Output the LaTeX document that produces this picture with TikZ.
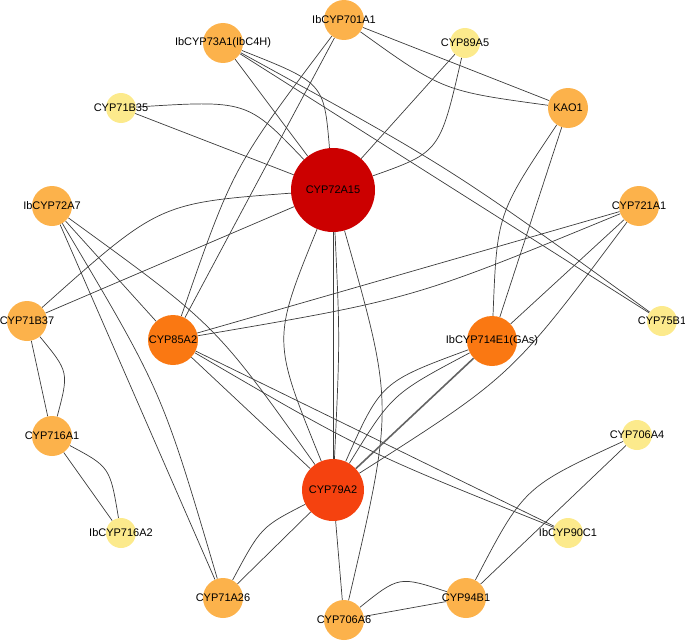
\documentclass[tikz,border=0pt]{standalone}
\usepackage{fontspec}
\setmainfont{Liberation Sans}
\usetikzlibrary{backgrounds}
\definecolor{cRed}{HTML}{CC0000}
\definecolor{cRedOr}{HTML}{F5420F}
\definecolor{cOrange}{HTML}{FA7812}
\definecolor{cLight}{HTML}{FCB24B}
\definecolor{cYellow}{HTML}{FCEA8C}
\definecolor{edgegray}{HTML}{3C3C3C}
\tikzset{
  gene/.style={circle, inner sep=0pt, draw=none},
  hubA/.style={gene, fill=cRed, minimum size=84pt},
  hubB/.style={gene, fill=cRedOr, minimum size=62pt},
  midnode/.style={gene, fill=cOrange, minimum size=50pt},
  lightnode/.style={gene, fill=cLight, minimum size=40pt},
  yellownode/.style={gene, fill=cYellow, minimum size=30pt},
  lbl/.style={font=\fontsize{11}{13}\selectfont, text=black, inner sep=0pt},
  edge/.style={draw=edgegray, line width=0.7pt},
  thickedge/.style={draw=edgegray!80, line width=1.6pt},
}
\begin{document}
\begin{tikzpicture}[x=1pt,y=-1pt]
\useasboundingbox (0,0) rectangle (685,642);
% nodes
\node[hubA] (nA15) at (333,190) {};
\node[hubB] (n79A2) at (333,490) {};
\node[midnode] (n85A2) at (173,340) {};
\node[midnode] (n714E1) at (492,341) {};
\node[lightnode] (n701) at (344,20) {};
\node[lightnode] (n73) at (223,43) {};
\node[lightnode] (nKAO1) at (568,108) {};
\node[lightnode] (n721A1) at (639,206) {};
\node[lightnode] (n72A7) at (52,206) {};
\node[lightnode] (n71B37) at (27,321) {};
\node[lightnode] (n716A1) at (52,436) {};
\node[lightnode] (n71A26) at (223,598) {};
\node[lightnode] (n706A6) at (344,620) {};
\node[lightnode] (n94B1) at (466,598) {};
\node[yellownode] (n89A5) at (465,43) {};
\node[yellownode] (n71B35) at (121,108) {};
\node[yellownode] (n75B1) at (662,321) {};
\node[yellownode] (n716A2) at (121,533) {};
\node[yellownode] (n90C1) at (568,533) {};
\node[yellownode] (n706A4) at (637,435) {};
% labels
\node[lbl] (lA15) at (nA15) {CYP72A15};
\node[lbl] (l79A2) at (n79A2) {CYP79A2};
\node[lbl] (l85A2) at (n85A2) {CYP85A2};
\node[lbl] (l714E1) at (n714E1) {IbCYP714E1(GAs)};
\node[lbl] (l701) at (n701) {IbCYP701A1};
\node[lbl] (l73) at (n73) {IbCYP73A1(IbC4H)};
\node[lbl] (lKAO1) at (nKAO1) {KAO1};
\node[lbl] (l721A1) at (n721A1) {CYP721A1};
\node[lbl] (l72A7) at (n72A7) {IbCYP72A7};
\node[lbl] (l71B37) at (n71B37) {CYP71B37};
\node[lbl] (l716A1) at (n716A1) {CYP716A1};
\node[lbl] (l71A26) at (n71A26) {CYP71A26};
\node[lbl] (l706A6) at (n706A6) {CYP706A6};
\node[lbl] (l94B1) at (n94B1) {CYP94B1};
\node[lbl] (l89A5) at (n89A5) {CYP89A5};
\node[lbl] (l71B35) at (n71B35) {CYP71B35};
\node[lbl] (l75B1) at (n75B1) {CYP75B1};
\node[lbl] (l716A2) at (n716A2) {IbCYP716A2};
\node[lbl] (l90C1) at (n90C1) {IbCYP90C1};
\node[lbl] (l706A4) at (n706A4) {CYP706A4};
% edges
\begin{scope}[on background layer]
\draw[edge] (n701) -- (nKAO1);
\draw[edge] (n701) .. controls (443,91) .. (nKAO1);
\draw[edge] (n701) -- (n85A2);
\draw[edge] (n701) .. controls (233,167) .. (n85A2);
\draw[edge] (n73) -- (nA15);
\draw[edge] (n73) .. controls (324,83) .. (nA15);
\draw[edge] (n73) -- (n75B1);
\draw[edge] (n73) .. controls (451,168) .. (n75B1);
\draw[edge] (n71B35) -- (nA15);
\draw[edge] (n71B35) .. controls (247,100) .. (nA15);
\draw[edge] (n89A5) -- (nA15);
\draw[edge] (n89A5) .. controls (440,152) .. (nA15);
\draw[edge] (nKAO1) -- (n714E1);
\draw[edge] (nKAO1) .. controls (497,214) .. (n714E1);
\draw[edge] (n71B37) -- (nA15);
\draw[edge] (n71B37) .. controls (159,203) .. (nA15);
\draw[edge] (n72A7) -- (n85A2);
\draw[edge] (n72A7) .. controls (216,325) .. (n79A2);
\draw[edge] (n72A7) -- (n71A26);
\draw[edge] (n72A7) .. controls (162,391) .. (n71A26);
\draw[edge] (n71B37) -- (n716A1);
\draw[edge] (n71B37) .. controls (69,372) .. (n716A1);
\draw[edge] (n716A1) -- (n716A2);
\draw[edge] (n716A1) .. controls (110,467) .. (n716A2);
\draw[edge] (n85A2) -- (n721A1);
\draw[edge] (n85A2) .. controls (413,299) .. (n721A1);
\draw[edge] (n85A2) -- (n90C1);
\draw[edge] (n85A2) .. controls (363,451) .. (n90C1);
\draw[edge] (n85A2) -- (n79A2);
\draw[edge] (nA15) -- (n79A2);
\draw[edge] (nA15) .. controls (340,340) .. (n79A2);
\draw[edge] (nA15) .. controls (272,340) .. (n79A2);
\draw[edge] (nA15) .. controls (394,405) .. (n706A6);
\draw[edge] (n721A1) -- (n714E1);
\draw[edge] (n721A1) .. controls (512,376) .. (n79A2);
\draw[thickedge] (n714E1) -- (n79A2);
\draw[edge] (n714E1) .. controls (381,382) .. (n79A2);
\draw[edge] (n714E1) .. controls (392,394) .. (n79A2);
\draw[edge] (n79A2) -- (n706A6);
\draw[edge] (n71A26) -- (n79A2);
\draw[edge] (n71A26) .. controls (261,527) .. (n79A2);
\draw[edge] (n94B1) -- (n706A6);
\draw[edge] (n94B1) .. controls (399,576) .. (n706A6);
\draw[edge] (n94B1) -- (n706A4);
\draw[edge] (n94B1) .. controls (524,487) .. (n706A4);
\end{scope}
\end{tikzpicture}
\end{document}
